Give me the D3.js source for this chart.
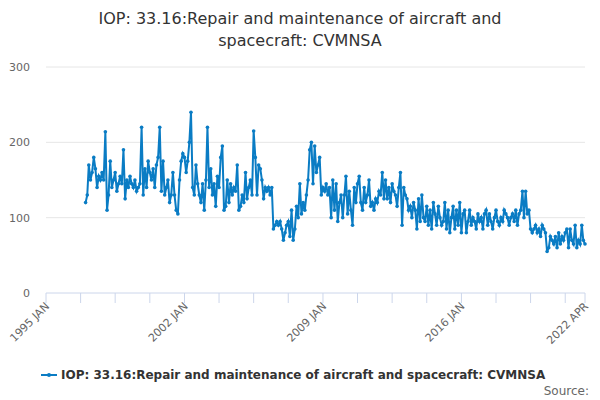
<!DOCTYPE html>
<html lang="en">
<head>
<meta charset="utf-8">
<script src="https://d3js.org/d3.v7.min.js"></script>
<style>
  body { margin: 0; font-family: 'DejaVu Sans', sans-serif; background: #fff; }
</style>
</head>
<body>
<div id="chart"></div>
<script>
var title = ["IOP: 33.16:Repair and maintenance of aircraft and", "spacecraft: CVMNSA"];
var seriesName = "IOP: 33.16:Repair and maintenance of aircraft and spacecraft: CVMNSA";
var startYear = 1997;
var values = [
  // 1997
  120,130,170,150,160,180,165,140,155,150,160,150,
  // 1998
  214,110,130,175,140,150,160,135,145,155,145,190,
  // 1999
  125,150,140,155,145,140,150,135,140,145,220,130,
  // 2000
  165,140,175,160,150,165,140,170,180,220,135,175,
  // 2001
  130,140,150,120,130,160,130,110,105,150,175,185,
  // 2002
  180,160,175,200,240,140,130,170,145,130,120,145,
  // 2003
  110,150,220,140,165,130,145,115,155,140,180,195,
  // 2004
  110,115,150,120,145,130,140,135,170,110,115,130,
  // 2005
  120,160,125,140,150,130,215,180,130,170,165,150,
  // 2006
  125,140,135,140,130,140,85,90,95,90,95,85,
  // 2007
  70,80,90,95,75,110,70,85,115,100,145,105,
  // 2008
  120,110,130,150,190,200,145,195,160,170,180,130,
  // 2009
  140,135,145,130,140,100,150,110,145,95,120,130,
  // 2010
  100,130,155,105,135,110,90,140,120,145,155,120,
  // 2011
  110,140,120,130,150,115,120,110,125,120,135,130,
  // 2012
  160,125,150,125,140,120,145,135,130,115,140,160,
  // 2013
  90,140,130,125,110,115,100,120,110,85,125,95,
  // 2014
  130,100,95,115,90,110,85,120,105,90,115,100,
  // 2015
  90,95,120,85,110,80,100,115,85,110,90,120,
  // 2016
  80,105,110,80,95,110,90,100,95,85,105,95,
  // 2017
  100,85,105,110,90,105,95,85,100,110,95,90,
  // 2018
  100,95,110,105,100,90,100,105,95,110,90,105,
  // 2019
  110,135,100,135,105,110,85,80,85,90,80,85,
  // 2020
  75,90,85,80,55,60,75,70,65,75,60,80,
  // 2021
  65,75,70,80,85,60,85,70,65,90,60,70,
  // 2022
  65,90,70,65
];
var yTicks = [0, 100, 200, 300];
var xLabels = [[1995,0,"1995 JAN"],[2002,0,"2002 JAN"],[2009,0,"2009 JAN"],[2016,0,"2016 JAN"],[2022,3,"2022 APR"]];

var W = 600, H = 400;
var plotLeft = 46, plotRight = 585, plotTop = 67, plotBottom = 293;

var data = values.map(function(v, i) {
  return { date: new Date(startYear + Math.floor(i / 12), i % 12, 1), v: v };
});

var x = d3.scaleTime()
  .domain([new Date(1995, 0, 1), new Date(2022, 3, 1)])
  .range([plotLeft, plotRight]);
var y = d3.scaleLinear().domain([0, 300]).range([plotBottom, plotTop]);

var svg = d3.select("#chart").append("svg")
  .attr("width", W).attr("height", H);

// title
svg.selectAll("text.title").data(title).enter().append("text")
  .attr("x", W / 2).attr("y", function(d, i) { return 24 + i * 22; })
  .attr("text-anchor", "middle")
  .style("font-size", "16px").style("fill", "#333")
  .text(function(d) { return d; });

// grid
svg.selectAll("line.grid").data(yTicks.slice(1)).enter().append("line")
  .attr("x1", plotLeft).attr("x2", plotRight)
  .attr("y1", y).attr("y2", y)
  .style("stroke", "#e6e6e6");

svg.selectAll("text.ylab").data(yTicks).enter().append("text")
  .attr("x", 30).attr("y", function(d) { return y(d) + 4; })
  .attr("text-anchor", "end")
  .style("font-size", "11px").style("fill", "#666")
  .text(function(d) { return d; });

// x axis: baseline + ticks every 21 months
svg.append("line")
  .attr("x1", plotLeft).attr("x2", plotRight)
  .attr("y1", plotBottom).attr("y2", plotBottom)
  .style("stroke", "#ccd6eb");
var tickDates = d3.range(0, 16).map(function(k) { return d3.timeMonth.offset(new Date(1995, 0, 1), k * 21); })
  .filter(function(d) { return d < new Date(2022, 3, 1); });
tickDates.push(new Date(2022, 3, 1));
svg.selectAll("line.xt").data(tickDates).enter().append("line")
  .attr("x1", x).attr("x2", x)
  .attr("y1", plotBottom).attr("y2", plotBottom + 10)
  .style("stroke", "#ccd6eb");

svg.selectAll("text.xlab").data(xLabels).enter().append("text")
  .attr("transform", function(d) {
    return "translate(" + (x(new Date(d[0], d[1], 1)) + 4) + "," + (plotBottom + 14) + ") rotate(-45)";
  })
  .attr("text-anchor", "end")
  .style("font-size", "11px").style("fill", "#666")
  .text(function(d) { return d[2]; });

// line
var line = d3.line()
  .x(function(d) { return x(d.date); })
  .y(function(d) { return y(d.v); });

svg.append("path").datum(data)
  .attr("d", line)
  .style("fill", "none").style("stroke", "#0a7cc4").style("stroke-width", 2);

svg.selectAll("circle.pt").data(data).enter().append("circle")
  .attr("cx", function(d) { return x(d.date); })
  .attr("cy", function(d) { return y(d.v); })
  .attr("r", 1.8).style("fill", "#0a7cc4");

// legend
var lg = svg.append("g").attr("transform", "translate(41,375)");
lg.append("line").attr("x1", 0).attr("x2", 16).attr("y1", 0).attr("y2", 0)
  .style("stroke", "#0a7cc4").style("stroke-width", 2);
lg.append("circle").attr("cx", 8).attr("cy", 0).attr("r", 2).style("fill", "#0a7cc4");
lg.append("text").attr("x", 20).attr("y", 4)
  .style("font-size", "12px").style("font-weight", "bold").style("fill", "#333")
  .text(seriesName);

svg.append("text").attr("x", 589).attr("y", 395)
  .attr("text-anchor", "end")
  .style("font-size", "12px").style("fill", "#666")
  .text("Source:");
</script>
</body>
</html>
